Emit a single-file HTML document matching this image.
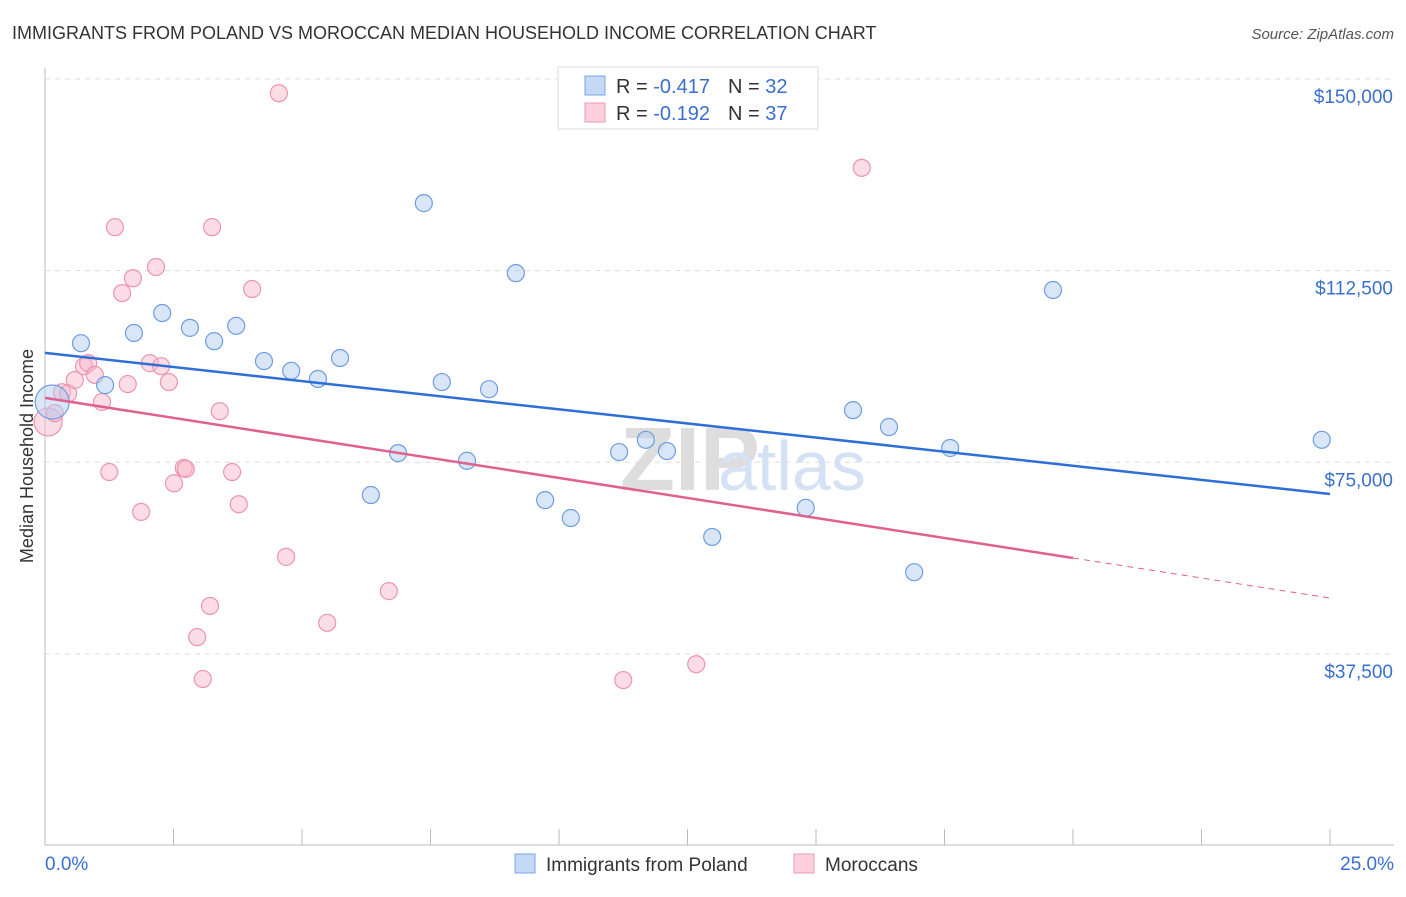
<!DOCTYPE html>
<html><head><meta charset="utf-8"><style>
body{margin:0;background:#fff;font-family:"Liberation Sans",sans-serif}
svg text{font-family:"Liberation Sans",sans-serif}
</style></head><body>
<svg id="c" width="1406" height="892" xmlns="http://www.w3.org/2000/svg">
<text x="12" y="39" font-size="18" fill="#333">IMMIGRANTS FROM POLAND VS MOROCCAN MEDIAN HOUSEHOLD INCOME CORRELATION CHART</text>
<text x="1394" y="39" font-size="15" fill="#555" text-anchor="end" font-style="italic">Source: ZipAtlas.com</text>
<text x="33" y="456" font-size="18" fill="#333" text-anchor="middle" transform="rotate(-90 33 456)">Median Household Income</text>
<text x="620" y="490" font-size="90" fill="#ddd" font-family="Liberation Serif" font-weight="bold">ZIP</text>
<text x="718" y="490" font-size="70" fill="#d5e2f5">atlas</text>
<g id="grid"></g><g id="axes"></g><g id="pts"></g><g id="lines"></g>
<g>
<rect x="558" y="67" width="260" height="62" fill="#fff" stroke="#ddd"/>
<rect x="585" y="76" width="20" height="19" fill="#c5d8f5" stroke="#7aa5e6"/>
<rect x="585" y="103" width="20" height="19" fill="#fcd0dc" stroke="#ee9ab4"/>
<text x="616" y="93" font-size="20" fill="#333">R = <tspan fill="#3a6fd0">-0.417</tspan><tspan dx="18">N = </tspan><tspan fill="#3a6fd0">32</tspan></text>
<text x="616" y="120" font-size="20" fill="#333">R = <tspan fill="#3a6fd0">-0.192</tspan><tspan dx="18">N = </tspan><tspan fill="#3a6fd0">37</tspan></text>
</g>
<g>
<rect x="515" y="854" width="20" height="19" fill="#c5d8f5" stroke="#7aa5e6"/>
<text x="546" y="871" font-size="19" fill="#333">Immigrants from Poland</text>
<rect x="794" y="854" width="20" height="19" fill="#fcd0dc" stroke="#ee9ab4"/>
<text x="825" y="871" font-size="19" fill="#333">Moroccans</text>
</g>
</svg>
<script>
const yTicks=[37500,75000,112500,150000];
const yTickLabels=["$37,500","$75,000","$112,500","$150,000"];
const xTickLabels=["0.0%","25.0%"];
const polandX=[0.14,0.70,1.17,1.73,2.28,2.82,3.29,3.72,4.26,4.79,5.31,5.74,6.34,6.87,7.37,7.72,8.21,8.64,9.16,9.73,10.23,11.17,11.69,12.10,12.98,14.80,15.72,16.42,16.91,17.61,19.61,24.84];
const polandY=[86800,98300,90100,100300,104200,101300,98700,101700,94800,92900,91300,95400,68600,76800,125700,90700,75300,89300,112000,67600,64100,77000,79400,77200,60400,66100,85200,81900,53500,77800,108700,79400];
const morX=[0.06,0.19,0.33,0.45,0.58,0.76,0.84,0.97,1.11,1.25,1.36,1.50,1.61,1.71,1.87,2.04,2.16,2.26,2.41,2.51,2.70,2.74,2.96,3.07,3.21,3.25,3.40,3.64,3.77,4.03,4.55,4.69,5.49,6.69,11.25,12.67,15.89];
const morY=[82900,84600,88700,88500,91100,93800,94400,92100,86800,73100,121000,108100,90300,111000,65300,94400,113200,93800,90700,70900,73900,73700,40800,32600,46900,121000,85000,73100,66800,108900,147200,56500,43600,49800,32400,35500,132600];
const polandTrend=[96400,68800];
const morTrend=[87600,48450];
const morSolidEnd=20;
const NS="http://www.w3.org/2000/svg";
const X=v=>45+v/25*1285, Y=v=>654-(v-37500)/37500*191.7;
function mk(tag,at,par){const e=document.createElementNS(NS,tag);for(const k in at)e.setAttribute(k,at[k]);document.getElementById(par).appendChild(e);return e;}
yTicks.forEach((t,i)=>{
 const g=mk('line',{x1:45,x2:1394,y1:Y(t),y2:Y(t),stroke:'#ddd','stroke-dasharray':'5,5'},'grid');
 
 
 const tx=mk('text',{x:1393,y:Y(t)+24,'font-size':19,fill:'#3a6fd0','text-anchor':'end'},'grid');
 tx.textContent=yTickLabels[i];
 
 
});
let a=mk('line',{x1:45,x2:45,y1:68,y2:845,stroke:'#bbb'},'axes');

a=mk('line',{x1:45,x2:1394,y1:845,y2:845,stroke:'#bbb'},'axes');

for(let i=0;i<=10;i++){const t=mk('line',{x1:X(i*2.5),x2:X(i*2.5),y1:829,y2:845,stroke:'#bbb'},'axes');
 }
[[0,'start',45],[1,'end',1394]].forEach(([i,an,x])=>{const t=mk('text',{x:x,y:870,'font-size':19,fill:'#3a6fd0','text-anchor':an},'axes');t.textContent=xTickLabels[i];
 });
morX.forEach((v,i)=>{const c=mk('circle',{cx:X(v),cy:Y(morY[i]),r:i==0?14:8.5,fill:'rgba(248,180,200,0.45)',stroke:'#ec94b0','stroke-width':1.2},'pts');
 });
polandX.forEach((v,i)=>{const c=mk('circle',{cx:X(v),cy:Y(polandY[i]),r:i==0?17:8.5,fill:'rgba(180,205,242,0.5)',stroke:'#6d9de0','stroke-width':1.2},'pts');
 });
let l=mk('line',{x1:X(0),y1:Y(polandTrend[0]),x2:X(25),y2:Y(polandTrend[1]),stroke:'#2d6fd6','stroke-width':2.5},'lines');

const my=x=>morTrend[0]+(morTrend[1]-morTrend[0])*x/25;
l=mk('line',{x1:X(0),y1:Y(my(0)),x2:X(morSolidEnd),y2:Y(my(morSolidEnd)),stroke:'#e0608e','stroke-width':2.5},'lines');

l=mk('line',{x1:X(morSolidEnd),y1:Y(my(morSolidEnd)),x2:X(25),y2:Y(my(25)),stroke:'#e0608e','stroke-width':1,'stroke-dasharray':'6,5'},'lines');

</script>
</body></html>
